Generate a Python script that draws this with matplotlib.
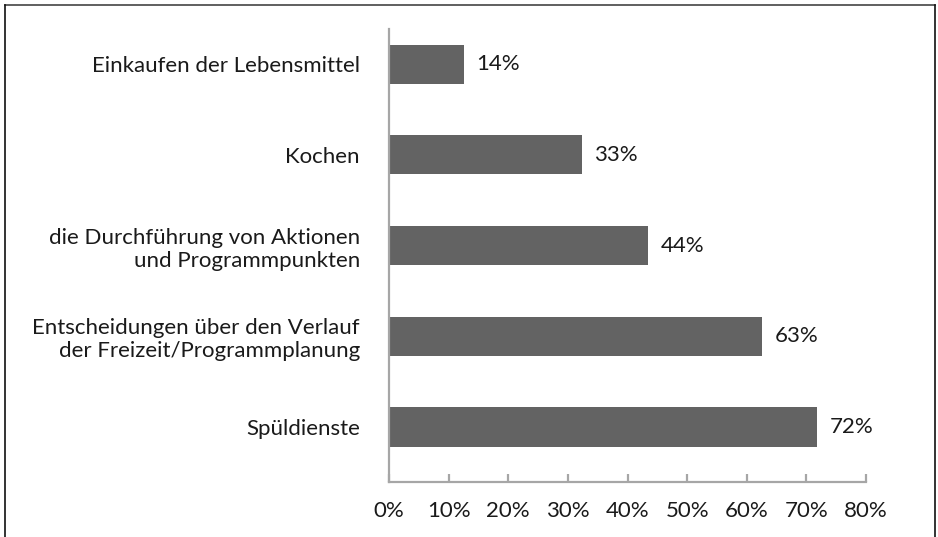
import matplotlib
matplotlib.use("Agg")
import matplotlib.pyplot as plt
from matplotlib.lines import Line2D

# categories from top to bottom as in the reference
tasks = [
    "Einkaufen der Lebensmittel",
    "Kochen",
    "die Durchführung von Aktionen\nund Programmpunkten",
    "Entscheidungen über den Verlauf\nder Freizeit/Programmplanung",
    "Spüldienste",
]
# bar lengths (percent)
shares = [12.5, 32.3, 43.5, 62.6, 71.8]
# printed value labels
share_labels = ["14%", "33%", "44%", "63%", "72%"]
x_ticks = [0, 10, 20, 30, 40, 50, 60, 70, 80]

plt.rcParams['font.family'] = ['Lato', 'DejaVu Sans']

bar_color = "#636363"
axis_color = "#a6a6a6"
text_color = "#1a1a1a"
fs = 16

fig = plt.figure(figsize=(9.38, 5.37), dpi=100)
ax = fig.add_axes([389 / 938, 1 - 482 / 537, (866 - 389) / 938, (482 - 29) / 537])

# bottom category at y=0
ypos = list(range(len(tasks)))[::-1]
ax.barh(ypos, shares, height=0.43, color=bar_color)

for y, v, lab in zip(ypos, shares, share_labels):
    ax.annotate(lab, xy=(v, y), xytext=(9, 0), textcoords="offset points",
                va="center", ha="left", fontsize=fs, color=text_color)

ax.set_xlim(0, 80)
ax.set_ylim(-0.606, 4.386)
ax.set_xticks(x_ticks)
ax.set_xticklabels([f"{t}%" for t in x_ticks])
ax.set_yticks(ypos)
ax.set_yticklabels(tasks)

for side in ["top", "right"]:
    ax.spines[side].set_visible(False)
for side in ["left", "bottom"]:
    ax.spines[side].set_color(axis_color)
    ax.spines[side].set_linewidth(1.6)

ax.tick_params(axis="x", direction="in", length=6, width=1.6, color=axis_color,
               labelsize=fs, labelcolor=text_color, pad=14)
ax.tick_params(axis="y", length=0, labelsize=fs, labelcolor=text_color, pad=21)

# outer frame (bottom edge is cut off in the reference)
fx0, fx1, fy1 = 5 / 938, 935 / 938, 1 - 5 / 537
fig.add_artist(Line2D([fx0, fx1], [fy1, fy1], color="#444444", lw=1.2))
fig.add_artist(Line2D([fx0, fx0], [0, fy1], color="#111111", lw=1.2))
fig.add_artist(Line2D([fx1, fx1], [0, fy1], color="#111111", lw=1.2))

fig.savefig("out.png", dpi=100)
